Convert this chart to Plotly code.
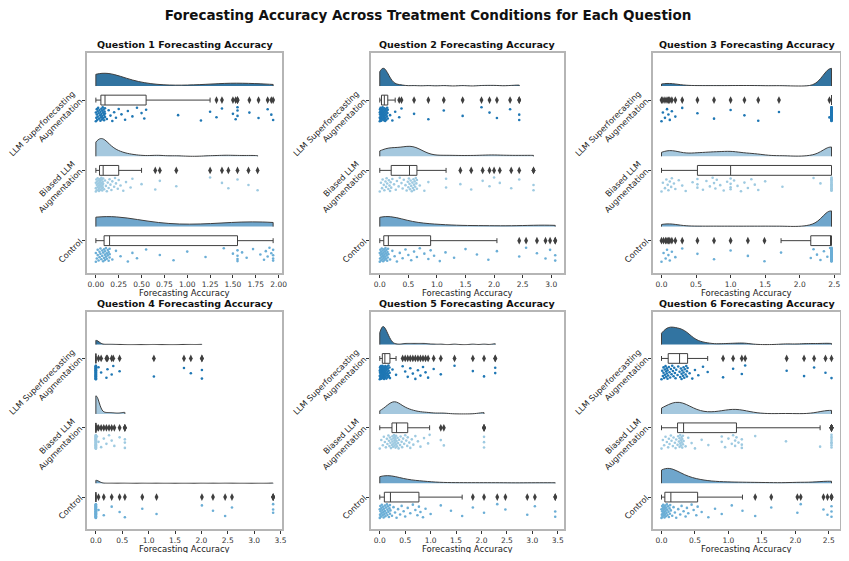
import plotly.graph_objects as go

# ---------------- data ----------------
CONDITIONS = ["Control", "Biased LLM Augmentation", "LLM Superforecasting Augmentation"]
COND_LABELS = ["Control", "Biased LLM<br>Augmentation", "LLM Superforecasting<br>Augmentation"]
QUESTIONS = ["Question 1", "Question 2", "Question 3", "Question 4", "Question 5", "Question 6"]
X_LABEL = "Forecasting Accuracy"

q1_llm = [0.0, 0.0, 0.005, 0.01, 0.01, 0.015, 0.02, 0.02, 0.025, 0.03, 0.035, 0.04, 0.045, 0.05, 0.05,
          0.055,
          0.06, 0.06, 0.065, 0.07, 0.07, 0.075, 0.08, 0.08, 0.085, 0.09, 0.09, 0.095, 0.1, 0.1,
          0.1,
          0.12, 0.14, 0.16, 0.18, 0.2, 0.22, 0.25, 0.28, 0.32, 0.35, 0.4, 0.45, 0.5, 0.53,
          0.55,
          0.9, 1.15, 1.25, 1.32, 1.38, 1.5, 1.53, 1.55, 1.55, 1.55, 1.68, 1.78, 1.88, 1.92, 1.94]
q1_biased = [0.0, 0.0, 0.0, 0.005, 0.01, 0.01, 0.015, 0.02, 0.02, 0.025, 0.03, 0.03, 0.035, 0.035, 0.04,
             0.04,
             0.045, 0.045, 0.05, 0.05, 0.055, 0.06, 0.06, 0.065, 0.065, 0.07, 0.07, 0.075, 0.075, 0.08,
             0.08,
             0.09, 0.1, 0.11, 0.12, 0.13, 0.14, 0.15, 0.16, 0.17, 0.18, 0.2, 0.21, 0.22, 0.24,
             0.25,
             0.27, 0.3, 0.33, 0.38, 0.4, 0.5, 0.65, 0.7, 0.88, 1.25, 1.38, 1.45, 1.55, 1.67, 1.77]
q1_control = [0.0, 0.0, 0.01, 0.02, 0.02, 0.03, 0.04, 0.04, 0.05, 0.05, 0.06, 0.07, 0.07, 0.08, 0.08,
              0.09,
              0.09, 0.1, 0.1, 0.1, 0.11, 0.11, 0.12, 0.12, 0.13, 0.13, 0.14, 0.14, 0.15, 0.15,
              0.15,
              0.18, 0.22, 0.27, 0.35, 0.4, 0.45, 0.55, 0.7, 0.85, 1.0, 1.2, 1.4, 1.5, 1.55,
              1.55,
              1.55, 1.55, 1.6, 1.65, 1.72, 1.8, 1.84, 1.86, 1.88, 1.9, 1.92, 1.94, 1.94, 1.94, 1.94]

q2_llm = [0.0, 0.0, 0.0, 0.005, 0.005, 0.01, 0.01, 0.015, 0.015, 0.02, 0.02, 0.02, 0.025, 0.025, 0.03,
          0.03,
          0.035, 0.04, 0.04, 0.045, 0.05, 0.05, 0.055, 0.06, 0.06, 0.065, 0.07, 0.07, 0.075, 0.08,
          0.08,
          0.085, 0.09, 0.09, 0.095, 0.1, 0.1, 0.105, 0.11, 0.115, 0.12, 0.125, 0.13, 0.135, 0.14,
          0.14,
          0.18, 0.22, 0.27, 0.34, 0.38, 0.6, 0.85, 1.12, 1.45, 1.78, 1.92, 2.05, 2.28, 2.44, 2.44]
q2_biased = [0.0, 0.02, 0.04, 0.05, 0.07, 0.08, 0.1, 0.11, 0.12, 0.13, 0.15, 0.16, 0.17, 0.18, 0.19,
             0.2,
             0.22, 0.25, 0.28, 0.3, 0.33, 0.35, 0.38, 0.4, 0.42, 0.45, 0.47, 0.49, 0.5, 0.51,
             0.52,
             0.53, 0.54, 0.55, 0.56, 0.57, 0.58, 0.59, 0.6, 0.6, 0.61, 0.62, 0.63, 0.64, 0.65,
             0.65,
             0.7, 0.78, 0.85, 1.16, 1.16, 1.41, 1.6, 1.8, 1.92, 2.0, 2.1, 2.3, 2.44, 2.69, 2.69]
q2_control = [0.0, 0.0, 0.005, 0.01, 0.015, 0.02, 0.025, 0.03, 0.035, 0.04, 0.045, 0.05, 0.055, 0.06, 0.065,
              0.07,
              0.075, 0.08, 0.085, 0.09, 0.095, 0.1, 0.105, 0.11, 0.115, 0.12, 0.13, 0.135, 0.14, 0.145,
              0.15,
              0.18, 0.22, 0.26, 0.3, 0.35, 0.4, 0.45, 0.5, 0.55, 0.6, 0.65, 0.7, 0.78, 0.85,
              0.89,
              0.95, 1.05, 1.15, 1.3, 1.5, 1.7, 1.9, 2.05, 2.44, 2.56, 2.75, 2.9, 2.98, 3.07, 3.07]

q3_llm = [0.0, 0.02, 0.05, 0.08, 0.1, 0.12, 0.15, 0.2, 0.3, 0.52, 0.76, 1.0, 1.2, 1.4, 1.7, 2.43,
          2.46, 2.46, 2.46, 2.46, 2.46, 2.46, 2.46, 2.46, 2.46, 2.46, 2.46, 2.46, 2.46, 2.46,
          2.46, 2.46, 2.46, 2.46, 2.46, 2.46, 2.46, 2.46, 2.46, 2.46, 2.46, 2.46, 2.46, 2.46,
          2.46, 2.46, 2.46, 2.46, 2.46, 2.46, 2.46, 2.46, 2.46, 2.46, 2.46, 2.46, 2.46, 2.46,
          2.46, 2.46, 2.46, 2.46, 2.46, 2.46, 2.46]
q3_biased = [0.0, 0.02, 0.05, 0.07, 0.09, 0.1, 0.12, 0.14, 0.15, 0.18, 0.2, 0.25, 0.3, 0.35, 0.45,
             0.52,
             0.52, 0.52, 0.6, 0.65, 0.7, 0.74, 0.76, 0.78, 0.8, 0.85, 0.9, 0.95, 1.0, 1.0,
             1.0,
             1.0, 1.05, 1.1, 1.15, 1.2, 1.25, 1.3, 1.35, 1.4, 1.5, 1.75, 2.2, 2.3, 2.46,
             2.46,
             2.46, 2.46, 2.46, 2.46, 2.46, 2.46, 2.46, 2.46, 2.46, 2.46, 2.46, 2.46, 2.46, 2.46, 2.46]
q3_control = [0.0, 0.03, 0.06, 0.08, 0.1, 0.12, 0.15, 0.2, 0.3, 0.52, 0.76, 1.0, 1.25, 1.49, 1.73,
              2.16,
              2.2, 2.25, 2.3, 2.35, 2.4, 2.44, 2.46, 2.46, 2.46, 2.46, 2.46, 2.46, 2.46, 2.46,
              2.46, 2.46, 2.46, 2.46, 2.46, 2.46, 2.46, 2.46, 2.46, 2.46, 2.46, 2.46, 2.46, 2.46, 2.46,
              2.46, 2.46, 2.46, 2.46, 2.46, 2.46, 2.46, 2.46, 2.46, 2.46, 2.46, 2.46, 2.46, 2.46, 2.46, 2.46]

q4_llm = [0.0, 0.0, 0.0, 0.0, 0.0, 0.0, 0.0, 0.0, 0.0, 0.0, 0.0, 0.0, 0.0, 0.0, 0.0, 0.0, 0.0, 0.0,
          0.0, 0.0, 0.0, 0.0, 0.0, 0.0, 0.0, 0.0, 0.0, 0.0, 0.0, 0.0, 0.0, 0.0, 0.0, 0.0, 0.0, 0.0, 0.0,
          0.05, 0.1, 0.2, 0.22, 0.3, 0.33, 0.45, 1.1, 1.67, 1.8, 2.01, 2.01]
q4_biased = [0.0, 0.0, 0.0, 0.0, 0.0, 0.0, 0.0, 0.0, 0.0, 0.0, 0.0, 0.0, 0.0, 0.0, 0.0, 0.0, 0.0, 0.0,
             0.0, 0.0, 0.0, 0.0, 0.0, 0.0, 0.0, 0.0, 0.0, 0.0, 0.0, 0.0, 0.0, 0.0, 0.0, 0.0, 0.0, 0.0, 0.0,
             0.02, 0.05, 0.1, 0.15, 0.2, 0.25, 0.3, 0.35, 0.45, 0.55, 0.55, 0.55]
q4_control = [0.0, 0.0, 0.0, 0.0, 0.0, 0.0, 0.0, 0.0, 0.0, 0.0, 0.0, 0.0, 0.0, 0.0, 0.0, 0.0, 0.0, 0.0,
              0.0, 0.0, 0.0, 0.0, 0.0, 0.0, 0.0, 0.0, 0.0, 0.0, 0.0, 0.0, 0.0, 0.0, 0.0, 0.0, 0.0, 0.0,
              0.0, 0.0, 0.0, 0.0, 0.0, 0.0, 0.0,
              0.05, 0.15, 0.3, 0.45, 0.55, 0.88, 1.15, 2.01, 2.22, 2.45, 2.58, 3.36, 3.36, 3.36]

q5_llm = [0.0, 0.0, 0.0, 0.005, 0.005, 0.01, 0.01, 0.015, 0.02, 0.02, 0.025, 0.025, 0.03, 0.03, 0.035,
          0.035, 0.04, 0.04, 0.045, 0.045,
          0.05,
          0.05, 0.055, 0.055, 0.06, 0.06, 0.065, 0.065, 0.07, 0.07, 0.075, 0.075, 0.08, 0.08, 0.085,
          0.085, 0.09, 0.09, 0.095, 0.1,
          0.1,
          0.105, 0.11, 0.11, 0.115, 0.12, 0.125, 0.13, 0.135, 0.14, 0.145, 0.15, 0.155, 0.16, 0.165,
          0.17, 0.175, 0.18, 0.19, 0.195,
          0.2,
          0.25, 0.32, 0.45, 0.5, 0.55, 0.6, 0.65, 0.7, 0.75, 0.8, 0.85, 0.9, 0.95, 1.06, 1.2,
          1.47, 1.83, 2.05, 2.27, 2.27]
q5_biased = [0.0, 0.03, 0.06, 0.08, 0.1, 0.12, 0.14, 0.15, 0.17, 0.18, 0.19, 0.2, 0.21, 0.22, 0.23,
             0.24,
             0.25, 0.25, 0.26, 0.27, 0.27, 0.28, 0.29, 0.29, 0.3, 0.3, 0.31, 0.31, 0.32, 0.32,
             0.33,
             0.34, 0.35, 0.36, 0.37, 0.38, 0.4, 0.41, 0.43, 0.44, 0.46, 0.48, 0.5, 0.52, 0.54,
             0.55,
             0.58, 0.6, 0.63, 0.66, 0.7, 0.75, 0.8, 0.87, 0.95, 0.98, 1.2, 1.26, 2.05, 2.05, 2.05]
q5_control = [0.0, 0.0, 0.005, 0.01, 0.015, 0.02, 0.03, 0.035, 0.04, 0.05, 0.055, 0.06, 0.07, 0.075, 0.08,
              0.09,
              0.1, 0.1, 0.11, 0.12, 0.13, 0.14, 0.15, 0.15, 0.16, 0.17, 0.18, 0.19, 0.2, 0.2,
              0.21,
              0.24, 0.27, 0.3, 0.33, 0.36, 0.4, 0.43, 0.47, 0.5, 0.55, 0.6, 0.65, 0.7, 0.74,
              0.77,
              0.8, 0.85, 0.9, 1.0, 1.2, 1.4, 1.62, 1.83, 2.05, 2.31, 2.47, 2.9, 3.05, 3.45, 3.45]

q6_llm = [0.0, 0.01, 0.02, 0.03, 0.03, 0.04, 0.05, 0.05, 0.06, 0.07, 0.07, 0.08, 0.08, 0.09, 0.09,
          0.1,
          0.11, 0.12, 0.13, 0.14, 0.15, 0.16, 0.17, 0.18, 0.19, 0.2, 0.21, 0.22, 0.24, 0.25,
          0.27,
          0.28, 0.29, 0.3, 0.3, 0.31, 0.32, 0.33, 0.33, 0.34, 0.35, 0.36, 0.37, 0.38, 0.38,
          0.39,
          0.42, 0.46, 0.5, 0.55, 0.62, 0.69, 0.92, 1.07, 1.2, 1.25, 1.87, 2.13, 2.28, 2.45, 2.54]
q6_biased = [0.0, 0.02, 0.04, 0.06, 0.08, 0.1, 0.11, 0.12, 0.14, 0.15, 0.17, 0.18, 0.2, 0.21, 0.22,
             0.24,
             0.25, 0.26, 0.27, 0.27, 0.28, 0.28, 0.29, 0.29, 0.3, 0.3, 0.31, 0.31, 0.32, 0.32,
             0.33,
             0.36, 0.4, 0.45, 0.5, 0.6, 0.7, 0.9, 0.9, 0.95, 1.0, 1.05, 1.07, 1.1, 1.1,
             1.12,
             1.15, 1.2, 1.2, 1.2, 1.4, 1.86, 2.37, 2.54, 2.54, 2.54, 2.54, 2.54, 2.54, 2.54, 2.54]
q6_control = [0.0, 0.0, 0.005, 0.01, 0.01, 0.015, 0.02, 0.02, 0.025, 0.03, 0.035, 0.04, 0.04, 0.045, 0.05,
              0.05,
              0.055, 0.06, 0.065, 0.07, 0.075, 0.08, 0.085, 0.09, 0.1, 0.105, 0.11, 0.12, 0.125, 0.13,
              0.14,
              0.16, 0.18, 0.2, 0.22, 0.25, 0.28, 0.3, 0.33, 0.36, 0.38, 0.4, 0.45, 0.48, 0.52,
              0.54,
              0.6, 0.7, 0.8, 0.9, 1.05, 1.21, 1.4, 1.64, 2.03, 2.08, 2.42, 2.48, 2.54, 2.54, 2.54]

# per question: [Control, Biased, LLM]
DATA = [
    [q1_control, q1_biased, q1_llm],
    [q2_control, q2_biased, q2_llm],
    [q3_control, q3_biased, q3_llm],
    [q4_control, q4_biased, q4_llm],
    [q5_control, q5_biased, q5_llm],
    [q6_control, q6_biased, q6_llm],
]

# ---------------- style ----------------
FILL = ["#6fa6cc", "#a5c8de", "#3274a1"]
POINT = ["#6baed6", "#9ecae1", "#1f77b4"]
LINE = "#3f3f3f"
FONT = "DejaVu Sans"
PAGE_OFF = 8                      # default body margin of the html page
W, H = 849 - 2 * PAGE_OFF, 561 - 2 * PAGE_OFF   # fit the page without scrollbars
PX_PER_UNIT = 70.3
# visual peak heights of the half-violins (px), per question [Control, Biased, LLM]
VIOLIN_PX = [[10, 17.7, 12.7], [10, 10, 17.7], [15.7, 9.3, 17.7],
             [3, 18.3, 4.3], [7.7, 12.3, 18.3], [15, 11.7, 17.7]]
# KDE bandwidths (None = plotly default), per question [Control, Biased, LLM]
VIOLIN_BW = [[None, None, None], [None, None, 0.08], [0.12, 0.12, 0.12],
             [0.06, 0.06, 0.06], [None, None, None], [None, 0.16, None]]
TICK_FMT = [".2f", ".1f", ".1f", ".1f", ".1f", ".1f"]
DTICK = [0.25, 0.5, 0.5, 0.5, 0.5, 0.5]
STRIP_HALF = 0.1                  # half-height of jitter band (category units)
GOLDEN = 0.6180339887

# axes boxes in page pixels
COLS_PX = [(87, 282), (371, 564), (653, 840)]
ROWS_PX = [(53, 273), (312, 529)]


def px_x(p):
    return (p - PAGE_OFF) / W


def px_y(p):
    return 1 - (p - PAGE_OFF) / H


fig = go.Figure()
layout = dict(
    width=W, height=H, margin=dict(l=0, r=0, t=0, b=0),
    paper_bgcolor="white", plot_bgcolor="white",
    showlegend=False, violinmode="overlay", boxmode="overlay",
    font=dict(family=FONT, color="#222222"),
    title=dict(text="<b>Forecasting Accuracy Across Treatment Conditions for Each Question</b>",
               x=px_x(428), xanchor="center", y=px_y(15), yanchor="middle",
               font=dict(size=13.5, family=FONT, color="#111111")),
)
annotations = []

for qi in range(6):
    r, c = divmod(qi, 3)
    ax = "" if qi == 0 else str(qi + 1)
    xref, yref = "x" + ax, "y" + ax
    groups = DATA[qi]
    vmax = max(max(g) for g in groups)
    vmin = min(min(g) for g in groups)
    span = vmax - vmin
    for k, vals in enumerate(groups):
        h = VIOLIN_PX[qi][k] / PX_PER_UNIT
        bw = VIOLIN_BW[qi][k]
        vkw = dict(bandwidth=bw) if bw else {}
        fig.add_trace(go.Violin(
            x=vals, y0=k + 0.2, orientation="h", side="positive", width=2 * h,
            scalemode="width", spanmode="hard", points=False,
            fillcolor=FILL[k], line=dict(color=LINE, width=1), opacity=1,
            box=dict(visible=False), meanline=dict(visible=False),
            xaxis=xref, yaxis=yref, hoverinfo="skip", **vkw))
        # strip ("rain") points with an even, deterministic jitter
        jit = [k - 0.2 + ((i * GOLDEN) % 1 - 0.5) * 2 * STRIP_HALF for i in range(len(vals))]
        fig.add_trace(go.Scatter(
            x=vals, y=jit, mode="markers",
            marker=dict(color=POINT[k], size=2.6, line=dict(width=0)),
            xaxis=xref, yaxis=yref, hoverinfo="skip"))
        fig.add_trace(go.Box(
            x=vals, y0=k, orientation="h", width=0.14, boxpoints="outliers",
            quartilemethod="inclusive",
            fillcolor="white", line=dict(color=LINE, width=1), whiskerwidth=0.5,
            marker=dict(color=LINE, symbol="diamond-tall", size=5.5),
            xaxis=xref, yaxis=yref, hoverinfo="skip"))

    x0p, x1p = COLS_PX[c]
    y0p, y1p = ROWS_PX[r]
    layout["xaxis" + ax] = dict(
        domain=[px_x(x0p), px_x(x1p)], anchor=yref,
        range=[vmin - 0.05 * span, vmax + 0.05 * span],
        dtick=DTICK[qi], tick0=0, tickformat=TICK_FMT[qi],
        showline=True, mirror=True, linecolor="#b5b5b5", linewidth=1.5,
        showgrid=False, zeroline=False,
        ticks="outside", ticklen=3.5, tickwidth=1, tickcolor="#333333",
        tickfont=dict(size=7.5, family=FONT, color="#333333"),
        automargin=False)
    layout["yaxis" + ax] = dict(
        domain=[px_y(y1p), px_y(y0p)], anchor=xref,
        range=[-0.46, 2.67], tickvals=[0, 1, 2], ticktext=COND_LABELS,
        tickangle=-45,
        showline=True, mirror=True, linecolor="#b5b5b5", linewidth=1.5,
        showgrid=False, zeroline=False,
        ticks="outside", ticklen=3.5, tickwidth=1, tickcolor="#333333",
        tickfont=dict(size=8.2, family=FONT, color="#222222"),
        automargin=False)
    annotations.append(dict(
        text="<b>" + QUESTIONS[qi] + " Forecasting Accuracy</b>",
        x=px_x((x0p + x1p) / 2), y=px_y(y0p), xref="paper", yref="paper",
        xanchor="center", yanchor="bottom", yshift=1, showarrow=False,
        font=dict(size=9.5, family=FONT, color="#111111")))
    # x-axis title
    annotations.append(dict(
        text=X_LABEL,
        x=px_x((x0p + x1p) / 2), y=px_y(y1p + 13), xref="paper", yref="paper",
        xanchor="center", yanchor="top", showarrow=False,
        font=dict(size=8.5, family=FONT, color="#222222")))

layout["annotations"] = annotations
fig.update_layout(**layout)
fig.write_html("out.html")
